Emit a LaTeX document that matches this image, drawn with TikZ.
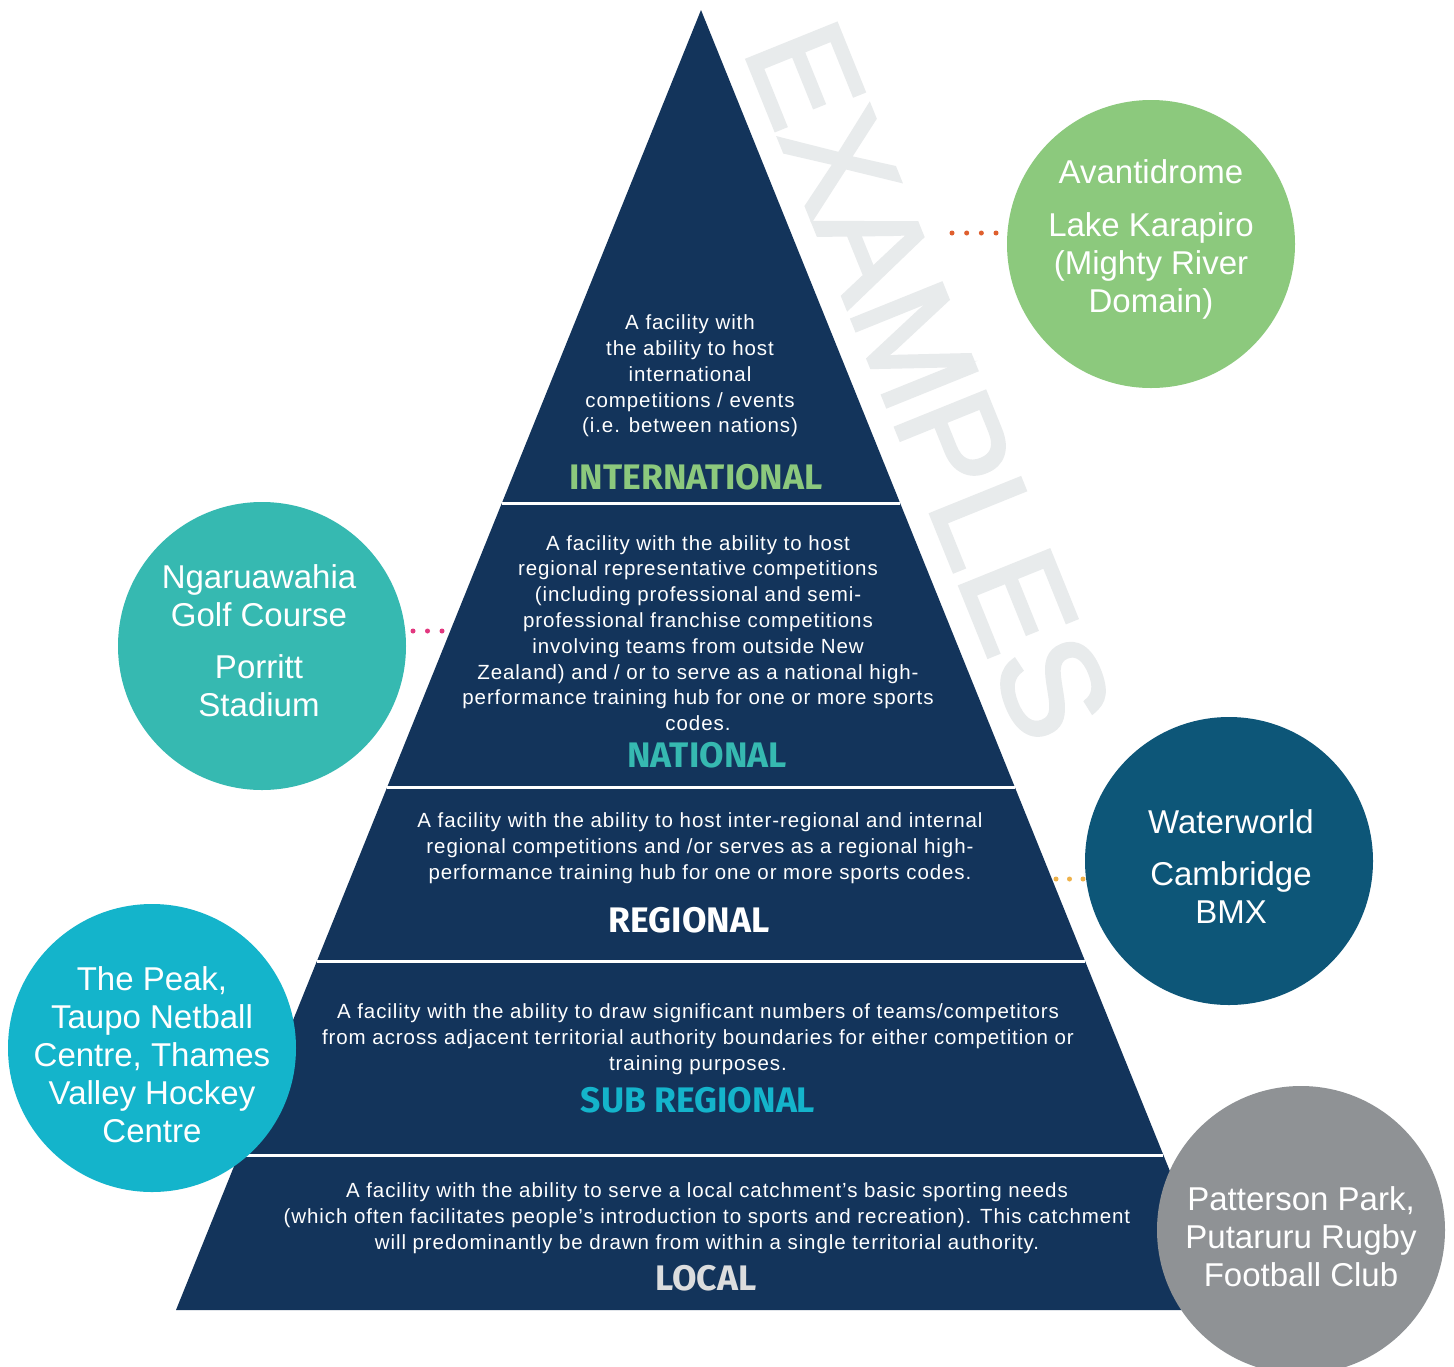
\documentclass[tikz,border=0pt]{standalone}
\usepackage{fontspec}
\setmainfont{Liberation Sans}
\newfontfamily\bodyfont[LetterSpace=4.5]{Liberation Sans}
\newfontfamily\wmfont[FakeBold=2.5]{Liberation Sans}
\newfontfamily\headfont{Fira Sans}
\definecolor{navy}{HTML}{13345B}
\definecolor{cgreen}{HTML}{8CC97D}
\definecolor{cteal}{HTML}{36B9B1}
\definecolor{cdblue}{HTML}{0D5678}
\definecolor{ccyan}{HTML}{14B4CB}
\definecolor{cgrey}{HTML}{8F9295}
\definecolor{dorange}{HTML}{DF5F2E}
\definecolor{dpink}{HTML}{E2377F}
\definecolor{dyellow}{HTML}{EFB24A}
\definecolor{wmark}{HTML}{E8EBEC}
\definecolor{lgrey}{HTML}{DCDDDE}
\tikzset{
  body/.style={text=white, align=center, inner sep=0, font=\bodyfont\fontsize{20.5}{25.8}\selectfont},
  head/.style={inner sep=0, font=\headfont\bfseries\fontsize{35.5}{35.5}\selectfont},
  disc/.style={circle, minimum size=288, inner sep=0},
  ctext/.style={text=white, align=center, inner sep=0, font=\fontsize{33}{38}\selectfont},
  dotline/.style={line width=5, line cap=round, dash pattern=on 0pt off #1}
}
\begin{document}
\begin{tikzpicture}[x=1pt,y=-1pt]
\useasboundingbox (0,0) rectangle (1454,1366);
\clip (0,0) rectangle (1454,1366);
\fill[white] (0,0) rectangle (1454,1366);
% watermark
\node[text=wmark, inner sep=0, font=\wmfont\fontsize{140}{140}\selectfont, rotate=-68] (wm) at (929,381) {EXAMPLES};
% pyramid
\fill[navy] (701,10) -- (1226,1310) -- (176,1310) -- cycle;
\foreach \y in {503,787,961,1155}
  \draw[white, line width=3] ({701-0.40385*(\y-10)},\y) -- ({701+0.40385*(\y-10)},\y);
% level texts
\node[body] (tint) at (690,376) {A facility with\\the ability to host\\international\\competitions / events\\(i.e. between nations)};
\node[head, text=cgreen] (hint) at (696,477) {INTERNATIONAL};
\node[body] (tnat) at (698,633) {A facility with the ability to host\\regional representative competitions\\(including professional and semi-\\professional franchise competitions\\involving teams from outside New\\Zealand) and / or to serve as a national high-\\performance training hub for one or more sports\\codes.};
\node[head, text=cteal] (hnat) at (707,755) {NATIONAL};
\node[body] (treg) at (700,848) {A facility with the ability to host inter-regional and internal\\regional competitions and /or serves as a regional high-\\performance training hub for one or more sports codes.};
\node[head, text=white] (hreg) at (689,920) {REGIONAL};
\node[body] (tsub) at (698,1039) {A facility with the ability to draw significant numbers of teams/competitors\\from across adjacent territorial authority boundaries for either competition or\\training purposes.};
\node[head, text=ccyan] (hsub) at (698,1100) {SUB REGIONAL};
\node[body] (tloc) at (707,1218) {A facility with the ability to serve a local catchment’s basic sporting needs\\(which often facilitates people’s introduction to sports and recreation). This catchment\\will predominantly be drawn from within a single territorial authority.};
\node[head, text=lgrey] (hloc) at (706,1278) {LOCAL};
% circles
\node[disc, fill=cgreen] (c1) at (1151,244) {};
\node[ctext] (t1) at (1151,239) {Avantidrome\\[15pt]Lake Karapiro\\(Mighty River\\Domain)};
\node[disc, fill=cteal] (c2) at (262,646) {};
\node[ctext] (t2) at (259,641) {Ngaruawahia\\Golf Course\\[14pt]Porritt\\Stadium};
\node[disc, fill=cdblue] (c3) at (1229,861) {};
\node[ctext] (t3) at (1231,867) {Waterworld\\[14pt]Cambridge\\BMX};
\node[disc, fill=ccyan] (c4) at (152,1048) {};
\node[ctext] (t4) at (152,1055) {The Peak,\\Taupo Netball\\Centre, Thames\\Valley Hockey\\Centre};
\node[disc, fill=cgrey] (c5) at (1301,1230) {};
\node[ctext] (t5) at (1301,1237) {Patterson Park,\\Putaruru Rugby\\Football Club};
% dotted connectors
\coordinate (d1) at (952,233);
\draw[dotline=14.67pt, dorange] (d1) -- (d1 -| c1.west);
\coordinate (d2) at (442,631);
\draw[dotline=14.5pt, dpink] (d2) -- (d2 -| c2.east);
\coordinate (d3) at (1056,879);
\draw[dotline=13.5pt, dyellow] (d3) -- (d3 -| c3.west);
\end{tikzpicture}
\end{document}
